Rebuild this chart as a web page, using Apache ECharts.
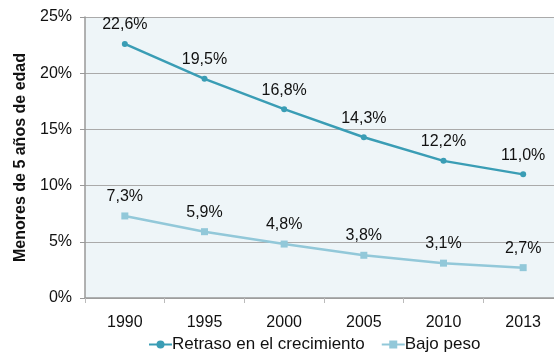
<!DOCTYPE html>
<html>
<head>
<meta charset="utf-8">
<script src="https://cdn.jsdelivr.net/npm/echarts@6/dist/echarts.min.js"></script>
<style>
  html, body { margin: 0; padding: 0; background: #ffffff; }
  #chart { width: 554px; height: 354px; }
</style>
</head>
<body>
<div id="chart"></div>
<script>
// Years on the horizontal axis
const years = ['1990', '1995', '2000', '2005', '2010', '2013'];
// Stunting prevalence, children under 5 (%)
const stunting = [22.6, 19.5, 16.8, 14.3, 12.2, 11.0];
// Underweight prevalence, children under 5 (%)
const underweight = [7.3, 5.9, 4.8, 3.8, 3.1, 2.7];
// Series names
const seriesNames = ['Retraso en el crecimiento', 'Bajo peso'];

const font = 'Liberation Sans, Arial, Helvetica, sans-serif';
const pct = v => v.toFixed(1).replace('.', ',') + '%';

const chart = echarts.init(document.getElementById('chart'), null, { renderer: 'canvas' });
chart.setOption({
  animation: false,
  backgroundColor: '#ffffff',
  textStyle: { fontFamily: font },
  grid: {
    left: 85, top: 17, width: 478, height: 281,
    outerBoundsMode: 'none',
    containLabel: false,
    show: true, backgroundColor: '#eef5f8', borderWidth: 0
  },
  legend: {
    data: seriesNames,
    top: 336,
    left: 148,
    padding: 0,
    itemWidth: 23,
    itemHeight: 10,
    itemGap: 16,
    textStyle: { fontFamily: font, fontSize: 17, color: '#111', padding: [0, 0, 0, -5] }
  },
  xAxis: {
    type: 'category',
    data: years,
    boundaryGap: true,
    axisLine: { lineStyle: { color: '#999', width: 1.5 } },
    axisTick: { show: true, length: 5, lineStyle: { color: '#bbb' } },
    axisLabel: { fontFamily: font, fontSize: 16, color: '#111', margin: 17 }
  },
  yAxis: {
    type: 'value',
    min: 0, max: 25, interval: 5,
    name: 'Menores de 5 años de edad',
    nameLocation: 'middle',
    nameGap: 54,
    nameTextStyle: { fontFamily: font, fontSize: 16, fontWeight: 'bold', color: '#111' },
    axisLine: { show: true, lineStyle: { color: '#999', width: 1.5 } },
    axisTick: { show: true, length: 5, lineStyle: { color: '#999' } },
    axisLabel: { fontFamily: font, fontSize: 16, color: '#111', margin: 13, formatter: v => v + '%' },
    splitLine: { lineStyle: { color: '#aaa', width: 1 } }
  },
  series: [
    {
      name: seriesNames[0],
      type: 'line',
      data: stunting,
      symbol: 'circle',
      symbolSize: 6,
      color: '#3a9db5',
      lineStyle: { width: 2.5, color: '#3a9db5' },
      itemStyle: { color: '#3a9db5' },
      label: { show: true, position: 'top', distance: 8, fontFamily: font, fontSize: 16, color: '#111', formatter: p => pct(p.value) }
    },
    {
      name: seriesNames[1],
      type: 'line',
      data: underweight,
      symbol: 'rect',
      symbolSize: 7,
      color: '#92c8d9',
      lineStyle: { width: 2.5, color: '#92c8d9' },
      itemStyle: { color: '#92c8d9' },
      label: { show: true, position: 'top', distance: 8, fontFamily: font, fontSize: 16, color: '#111', formatter: p => pct(p.value) }
    }
  ]
});
</script>
</body>
</html>
